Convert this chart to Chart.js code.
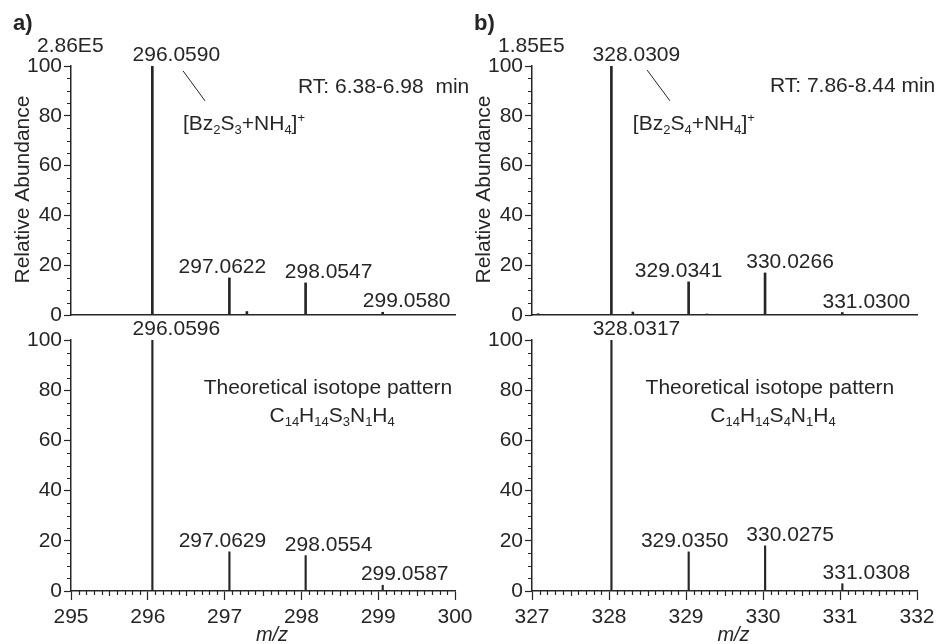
<!DOCTYPE html>
<html>
<head>
<meta charset="utf-8">
<script src="https://cdn.jsdelivr.net/npm/chart.js@4.4.0/dist/chart.umd.min.js"></script>
<style>
  html, body { margin: 0; padding: 0; background: #fff; }
  #wrap { position: relative; width: 944px; height: 644px; overflow: hidden; background: #fff; }
  #wrap canvas { position: absolute; left: 0; top: 0; }
</style>
</head>
<body>
<div id="wrap">
  <canvas id="topA" width="944" height="644"></canvas>
  <canvas id="botA" width="944" height="644"></canvas>
  <canvas id="topB" width="944" height="644"></canvas>
  <canvas id="botB" width="944" height="644"></canvas>
</div>
<script>
// a) measured spectrum, Bz2S3 + NH4
const topAMz = [296.0590, 297.0622, 298.0547, 299.0580];
const topAInt = [100, 14.9, 12.9, 1.1];
const topANoiseMz = [297.29];
const topANoiseInt = [1.4];
// a) theoretical pattern
const botAMz = [296.0596, 297.0629, 298.0554, 299.0587];
const botAInt = [100, 15.6, 14.1, 2.3];

// b) measured spectrum, Bz2S4 + NH4
const topBMz = [328.0309, 329.0341, 330.0266, 331.0300];
const topBInt = [100, 13.3, 16.9, 1.0];
const topBNoiseMz = [327.08, 328.31, 329.27];
const topBNoiseInt = [0.5, 1.2, 0.4];
// b) theoretical pattern
const botBMz = [328.0317, 329.0350, 330.0275, 331.0308];
const botBInt = [100, 15.6, 18.0, 2.9];

const rangeA = [295, 300];
const rangeB = [327, 332];
const yTicks = [0, 20, 40, 60, 80, 100];

const ink = '#262626';
const family = '"Liberation Sans", Arial, Helvetica, sans-serif';
const xAxisH = 40;

function parseRich(str) {
    const runs = [];
    const re = /([_^])\{([^}]*)\}/g;
    let last = 0, m;
    while ((m = re.exec(str))) {
        if (m.index > last) runs.push({ t: str.slice(last, m.index), mode: '' });
        runs.push({ t: m[2], mode: m[1] });
        last = re.lastIndex;
    }
    if (last < str.length) runs.push({ t: str.slice(last), mode: '' });
    return runs;
}

function drawRich(ctx, str, x, y, align) {
    const runs = parseRich(str);
    const fontFor = mode => mode ? '13px ' + family : '21px ' + family;
    let total = 0;
    runs.forEach(r => {
        ctx.font = fontFor(r.mode);
        r.w = ctx.measureText(r.t).width;
        total += r.w;
    });
    let cx = align === 'center' ? x - total / 2 : x;
    ctx.textAlign = 'left';
    ctx.textBaseline = 'alphabetic';
    runs.forEach(r => {
        ctx.font = fontFor(r.mode);
        const dy = r.mode === '_' ? 4 : (r.mode === '^' ? -8 : 0);
        ctx.fillText(r.t, cx, y + dy);
        cx += r.w;
    });
}

function makeChart(id, cfg) {
    const points = cfg.mz.map((m, i) => ({ x: m, y: cfg.int[i] }))
        .concat((cfg.noiseMz || []).map((m, i) => ({ x: m, y: cfg.noiseInt[i] })));

    const annotate = {
        id: 'annotate_' + id,
        afterDraw(chart) {
            const { ctx, chartArea: area } = chart;
            const xs = chart.scales.x, ys = chart.scales.y;
            ctx.save();
            ctx.strokeStyle = ink;
            ctx.fillStyle = ink;
            ctx.lineWidth = 1.2;

            // minor ticks on the y axis
            ctx.beginPath();
            for (let v = 5; v < 100; v += 5) {
                if (v % 20 === 0) continue;
                const py = Math.round(ys.getPixelForValue(v)) + 0.5;
                ctx.moveTo(area.left - 4, py);
                ctx.lineTo(area.left, py);
            }
            // minor ticks on the m/z axis
            if (cfg.showX) {
                for (let k = 1; k < (cfg.range[1] - cfg.range[0]) * 10; k++) {
                    if (k % 10 === 0) continue;
                    const px = Math.round(xs.getPixelForValue(cfg.range[0] + k / 10)) + 0.5;
                    const len = k % 5 === 0 ? 5 : 4;
                    ctx.moveTo(px, area.bottom);
                    ctx.lineTo(px, area.bottom + len);
                }
            }
            ctx.stroke();

            // peak labels
            ctx.font = '21px ' + family;
            ctx.textAlign = 'center';
            ctx.textBaseline = 'alphabetic';
            cfg.mz.forEach((m, i) => {
                const px = xs.getPixelForValue(m) + cfg.labelShift[i];
                const py = ys.getPixelForValue(cfg.int[i]) - 5;
                ctx.fillText(m.toFixed(4), px, py);
            });

            // free texts placed in data units
            (cfg.texts || []).forEach(t => {
                drawRich(ctx, t.text, xs.getPixelForValue(t.x), ys.getPixelForValue(t.y), t.align);
            });

            // leader line to the ion label
            if (cfg.leader) {
                const l = cfg.leader;
                ctx.lineWidth = 1;
                ctx.beginPath();
                ctx.moveTo(xs.getPixelForValue(l[0]), ys.getPixelForValue(l[1]));
                ctx.lineTo(xs.getPixelForValue(l[2]), ys.getPixelForValue(l[3]));
                ctx.stroke();
            }

            // intensity of the base peak
            if (cfg.scaleText) {
                ctx.font = '21px ' + family;
                ctx.textAlign = 'left';
                ctx.fillText(cfg.scaleText, area.left - 34, area.top - 14);
            }

            // panel letter and y title
            if (cfg.panel) {
                ctx.font = 'bold 22px ' + family;
                ctx.textAlign = 'left';
                ctx.fillText(cfg.panel, area.left - 58, 30);

                ctx.save();
                ctx.font = '21px ' + family;
                ctx.textAlign = 'center';
                ctx.translate(area.left - 49, (area.top + area.bottom) / 2 - 1);
                ctx.rotate(-Math.PI / 2);
                ctx.fillText('Relative Abundance', 0, 7);
                ctx.restore();
            }

            // x title
            if (cfg.showX) {
                ctx.font = 'italic 20px ' + family;
                ctx.textAlign = 'center';
                ctx.fillText('m/z', (area.left + area.right) / 2 + 9, 641);
            }
            ctx.restore();
        }
    };

    const box = cfg.box;
    return new Chart(document.getElementById(id).getContext('2d'), {
        type: 'bar',
        data: {
            datasets: [{
                data: points,
                backgroundColor: ink,
                borderWidth: 0,
                barThickness: cfg.barWidth
            }]
        },
        options: {
            responsive: false,
            animation: false,
            devicePixelRatio: 1,
            events: [],
            layout: {
                padding: {
                    left: 0,
                    top: box.top,
                    right: 944 - box.right,
                    bottom: 644 - box.bottom - (cfg.showX ? xAxisH : 0)
                }
            },
            plugins: {
                legend: { display: false },
                tooltip: { enabled: false }
            },
            scales: {
                x: {
                    type: 'linear',
                    offset: false,
                    min: cfg.range[0],
                    max: cfg.range[1],
                    grid: {
                        offset: false,
                        drawOnChartArea: false,
                        drawTicks: cfg.showX,
                        tickLength: 9,
                        tickColor: ink,
                        tickWidth: 1.2
                    },
                    border: { display: true, color: ink, width: 1.5 },
                    ticks: {
                        display: cfg.showX,
                        stepSize: 1,
                        autoSkip: false,
                        maxRotation: 0,
                        padding: 5,
                        color: ink,
                        font: { family: family, size: 21 }
                    },
                    afterFit: s => { s.height = cfg.showX ? xAxisH : 0; }
                },
                y: {
                    min: 0,
                    max: 100,
                    afterBuildTicks: s => { s.ticks = yTicks.map(v => ({ value: v })); },
                    grid: {
                        drawOnChartArea: false,
                        tickLength: 7,
                        tickColor: ink,
                        tickWidth: 1.2
                    },
                    border: { display: true, color: ink, width: 1.5 },
                    ticks: {
                        padding: 2,
                        color: ink,
                        font: { family: family, size: 21 }
                    },
                    afterFit: s => { s.width = box.left; }
                }
            }
        },
        plugins: [annotate]
    });
}

makeChart('topA', {
    mz: topAMz, int: topAInt, noiseMz: topANoiseMz, noiseInt: topANoiseInt,
    range: rangeA, showX: false, barWidth: 2,
    box: { left: 71, right: 455, top: 66, bottom: 315 },
    labelShift: [24, -7, 23, 24],
    scaleText: '2.86E5', panel: 'a)',
    leader: [296.46, 98, 296.745, 86],
    texts: [
        { text: 'RT: 6.38-6.98  min', x: 297.956, y: 89.2, align: 'left' },
        { text: '[Bz_{2}S_{3}+NH_{4}]^{+}', x: 296.458, y: 74.3, align: 'left' }
    ]
});

makeChart('botA', {
    mz: botAMz, int: botAInt,
    range: rangeA, showX: true, barWidth: 1.5,
    box: { left: 71, right: 455, top: 340, bottom: 591 },
    labelShift: [24, -7, 23, 22],
    texts: [
        { text: 'Theoretical isotope pattern', x: 298.346, y: 78.5, align: 'center' },
        { text: 'C_{14}H_{14}S_{3}N_{1}H_{4}', x: 298.4, y: 67.3, align: 'center' }
    ]
});

makeChart('topB', {
    mz: topBMz, int: topBInt, noiseMz: topBNoiseMz, noiseInt: topBNoiseInt,
    range: rangeB, showX: false, barWidth: 2,
    box: { left: 532, right: 917, top: 66, bottom: 315 },
    labelShift: [25, -10, 25, 24],
    scaleText: '1.85E5', panel: 'b)',
    leader: [328.494, 98.4, 328.792, 86],
    texts: [
        { text: 'RT: 7.86-8.44 min', x: 330.09, y: 89.6, align: 'left' },
        { text: '[Bz_{2}S_{4}+NH_{4}]^{+}', x: 328.31, y: 74.3, align: 'left' }
    ]
});

makeChart('botB', {
    mz: botBMz, int: botBInt,
    range: rangeB, showX: true, barWidth: 1.5,
    box: { left: 532, right: 917, top: 340, bottom: 591 },
    labelShift: [25, -4, 25, 24],
    texts: [
        { text: 'Theoretical isotope pattern', x: 330.09, y: 78.5, align: 'center' },
        { text: 'C_{14}H_{14}S_{4}N_{1}H_{4}', x: 330.13, y: 67.3, align: 'center' }
    ]
});
</script>
</body>
</html>
